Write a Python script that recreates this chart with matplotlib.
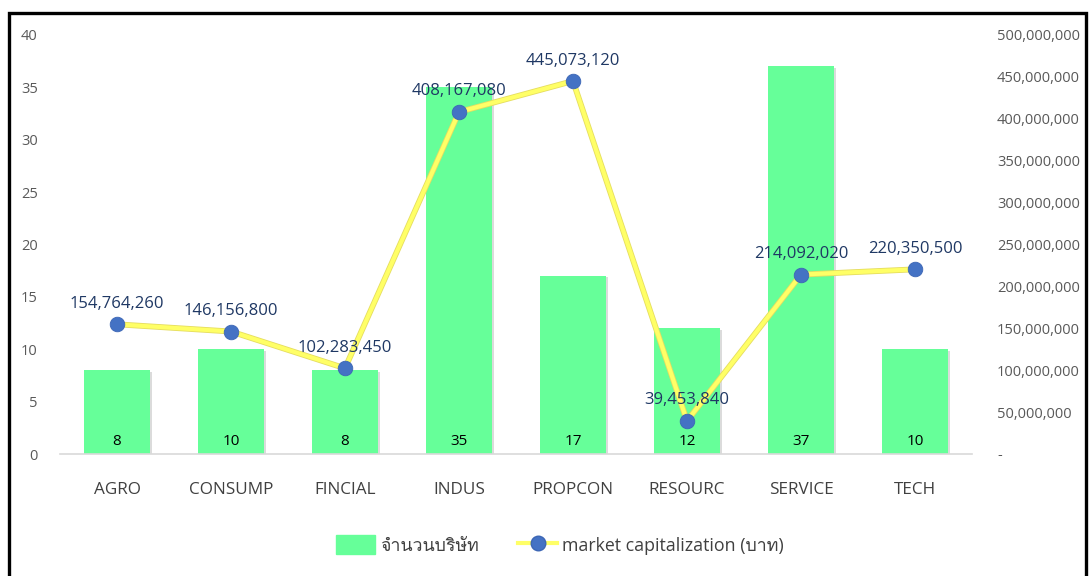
import matplotlib
matplotlib.use("Agg")
import matplotlib.pyplot as plt
from matplotlib import font_manager
from matplotlib.ft2font import FT2Font
from matplotlib.patches import Rectangle
from matplotlib.lines import Line2D
import matplotlib.patheffects as pe
import numpy as np

categories = ["AGRO", "CONSUMP", "FINCIAL", "INDUS", "PROPCON", "RESOURC", "SERVICE", "TECH"]
companies = [8, 10, 8, 35, 17, 12, 37, 10]
market_cap = [154764260, 146156800, 102283450, 408167080, 445073120, 39453840, 214092020, 220350500]
left_ticks = [0, 5, 10, 15, 20, 25, 30, 35, 40]
right_ticks = [0, 50e6, 100e6, 150e6, 200e6, 250e6, 300e6, 350e6, 400e6, 450e6, 500e6]
bar_label = "จำนวนบริษัท"
line_label = "market capitalization (บาท)"


def thai_fonts():
    """Return installed font family names that contain Thai glyphs."""
    names = []
    for f in font_manager.fontManager.ttflist:
        try:
            cmap = FT2Font(f.fname).get_charmap()
        except Exception:
            continue
        if 0x0E08 in cmap and 0x0E1A in cmap and f.name not in names:
            names.append(f.name)
    return names


base = "Open Sans"
families = [base] + thai_fonts() + ["DejaVu Sans"]
plt.rcParams["font.family"] = families

W, H = 1091, 576
fig = plt.figure(figsize=(W / 100, H / 100), dpi=100)
fig.patch.set_facecolor("white")

# outer frame
fig.add_artist(Rectangle((9 / W, -0.05), 1077 / W, 1 - 13 / H + 0.05,
                         transform=fig.transFigure, fill=False,
                         edgecolor="black", linewidth=2.4))

ax = fig.add_axes([60 / W, 1 - 454 / H, 912 / W, 419 / H])
ax2 = ax.twinx()

x = np.arange(len(categories))
bar_color = "#66FF99"
bars = ax.bar(x, companies, width=0.58, color=bar_color, zorder=2,
              label=bar_label)
for b in bars:
    b.set_path_effects([pe.SimplePatchShadow(offset=(1.5, -1), shadow_rgbFace="#999999", alpha=0.35),
                        pe.Normal()])
for xi, v in zip(x, companies):
    ax.text(xi, 1.2, f"{v}", ha="center", va="center", fontsize=11, color="black", zorder=5)

ax.set_xlim(-0.5, len(categories) - 0.5)
ax.set_ylim(0, 40)
ax.set_yticks(left_ticks)
ax.set_xticks(x)
ax.set_xticklabels(categories)
ax.tick_params(axis="y", length=0, pad=16, labelsize=10.5, labelcolor="#595959")
ax.tick_params(axis="x", length=0, pad=20, labelsize=12.3, labelcolor="#404040")
for s in ["top", "right", "left"]:
    ax.spines[s].set_visible(False)
ax.spines["bottom"].set_color("#D9D9D9")
ax.spines["bottom"].set_linewidth(1.2)

# line drawn first, markers on top so they keep a clean blue edge
ax2.plot(x, market_cap, color="#FFFF66", linewidth=3, zorder=3,
         path_effects=[pe.Stroke(linewidth=4.2, foreground="#E5DD60"), pe.Normal()])
ax2.plot(x, market_cap, linestyle="none", marker="o", markersize=10.5,
         markerfacecolor="#4472C4", markeredgecolor="#3C66B5", markeredgewidth=0.6, zorder=4)
for xi, v in zip(x, market_cap):
    ax2.annotate(f"{v:,}", (xi, v), xytext=(0, 9), textcoords="offset points",
                 ha="center", va="bottom", fontsize=12, color="#1F3864")
ax2.set_ylim(0, 500e6)
ax2.set_yticks(right_ticks)
ax2.set_yticklabels(["-" if t == 0 else f"{int(t):,}" for t in right_ticks])
ax2.tick_params(axis="y", length=0, pad=18, labelsize=10.5, labelcolor="#595959")
for s in ax2.spines.values():
    s.set_visible(False)

handles = [Rectangle((0, 0), 1, 1, color=bar_color),
           Line2D([0], [0], color="#FFFF66", linewidth=3, marker="o", markersize=10.5,
                  markerfacecolor="#4472C4", markeredgecolor="#3C66B5")]
fig.legend(handles, [bar_label, line_label], loc="center", bbox_to_anchor=(560 / W, 1 - 545 / H),
           ncol=2, frameon=False, fontsize=12.8, handlelength=2.2, handleheight=1.2,
           columnspacing=2.2, handletextpad=0.3, labelcolor="#404040")

fig.savefig("out.png", dpi=100, facecolor="white")
